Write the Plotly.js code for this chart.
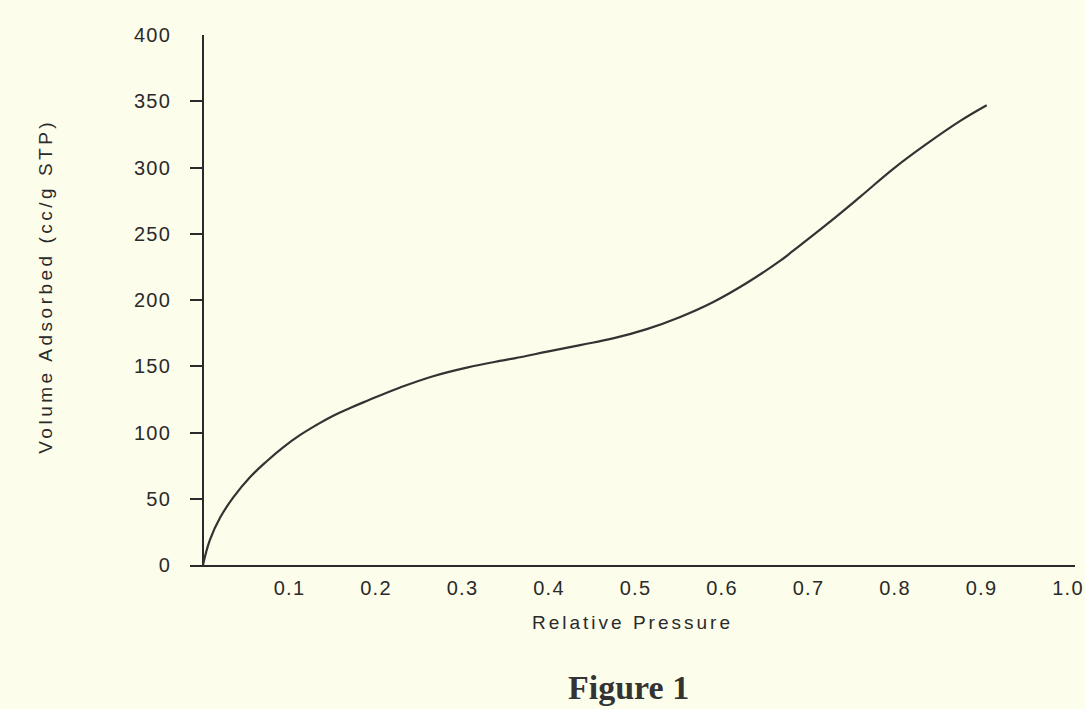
<!DOCTYPE html>
<html>
<head>
<meta charset="utf-8">
<script src="https://cdn.plot.ly/plotly-3.0.1.min.js"></script>
<style>
  html, body { margin: 0; padding: 0; background: #fdfdeb; }
  #chart { width: 1085px; height: 709px; }
  /* widely tracked sans-serif lettering */
  .xtitle { letter-spacing: 3px; }
  .annotation[data-index="0"] text { letter-spacing: 3.5px; }
  .xtick text, .ytick text { letter-spacing: 1.2px; }
</style>
</head>
<body>
<div id="chart"></div>
<script>
// Nitrogen adsorption isotherm: volume adsorbed vs relative pressure
const pressure = [0, 0.008, 0.02, 0.035, 0.054, 0.074, 0.093, 0.112, 0.132, 0.15, 0.17, 0.19,
  0.228, 0.266, 0.305, 0.343, 0.36, 0.398, 0.436, 0.474, 0.513, 0.551, 0.59, 0.629, 0.667,
  0.682, 0.721, 0.76, 0.798, 0.837, 0.875, 0.906];
const volume = [0, 19, 36, 51, 66, 78.5, 89, 98, 106, 112.5, 118.5, 124,
  134, 142.5, 149, 154, 156, 161, 166, 171, 178, 187, 198.5, 213, 229.5,
  237, 257, 278, 299, 318, 335, 347];

const xTickVals = [0.1, 0.2, 0.3, 0.4, 0.5, 0.6, 0.7, 0.8, 0.9, 1.0];
const xTickText = ['0.1', '0.2', '0.3', '0.4', '0.5', '0.6', '0.7', '0.8', '0.9', '1.0'];
const yTickVals = [0, 50, 100, 150, 200, 250, 300, 350, 400];

const ink = '#2a2a2a';
const paper = '#fdfdeb';
const sans = '"Liberation Sans", Arial, sans-serif';

const trace = {
  x: pressure,
  y: volume,
  type: 'scatter',
  mode: 'lines',
  line: { color: '#333333', width: 2.2, shape: 'spline', smoothing: 1.2 },
  hoverinfo: 'x+y',
  showlegend: false
};

const layout = {
  width: 1085,
  height: 709,
  paper_bgcolor: paper,
  plot_bgcolor: paper,
  margin: { l: 190, r: 10, t: 35, b: 144 },
  font: { family: sans, color: ink },
  xaxis: {
    range: [-0.01503, 1.00809],
    tickvals: xTickVals,
    ticktext: xTickText,
    ticks: '',
    showgrid: false,
    showline: true,
    linecolor: ink,
    linewidth: 2,
    zeroline: true,
    zerolinecolor: ink,
    zerolinewidth: 2,
    tickfont: { size: 20, color: ink },
    ticklabelstandoff: 4,
    title: {
      text: 'Relative Pressure',
      font: { size: 19, color: ink },
      standoff: 18
    }
  },
  yaxis: {
    range: [0, 400],
    tickvals: yTickVals,
    ticks: 'inside',
    ticklen: 12,
    tickwidth: 2,
    tickcolor: ink,
    showgrid: false,
    showline: false,
    zeroline: false,
    tickfont: { size: 20, color: ink },
    ticklabelstandoff: 18
  },
  annotations: [
    {
      // vertical axis title
      text: 'Volume Adsorbed (cc/g STP)',
      xref: 'paper', yref: 'paper',
      x: -0.1638, y: 0.526,
      xanchor: 'center', yanchor: 'middle',
      textangle: -90,
      showarrow: false,
      font: { family: sans, size: 19, color: ink }
    },
    {
      text: '<b>Figure 1</b>',
      xref: 'paper', yref: 'paper',
      x: 0.496, y: -0.232,
      xanchor: 'center', yanchor: 'middle',
      showarrow: false,
      font: { family: '"Liberation Serif", "Times New Roman", serif', size: 34, color: '#333333' }
    }
  ]
};

Plotly.newPlot('chart', [trace], layout, { displayModeBar: false, staticPlot: true });
</script>
</body>
</html>
